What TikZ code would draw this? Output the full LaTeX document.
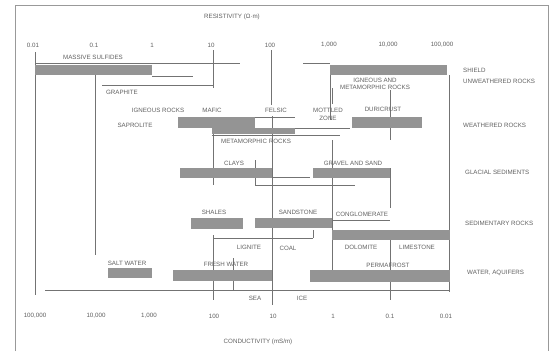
\documentclass[tikz,border=0pt]{standalone}
\usepackage{fontspec}
\setmainfont{Liberation Sans}
\definecolor{txt}{gray}{0.38}
\definecolor{barc}{gray}{0.58}
\definecolor{lnc}{gray}{0.45}
\definecolor{frm}{gray}{0.60}
\begin{document}
\begin{tikzpicture}[x=1pt,y=-1pt,
  lbl/.style={text=txt,font=\fontsize{6.2}{6.6}\selectfont,inner sep=0pt,anchor=center},
  rlbl/.style={lbl,anchor=west},
  barbox/.style={fill=barc,draw=none},
  rng/.style={draw=lnc,line width=0.55pt},
  frame line/.style={draw=frm,line width=0.8pt}]
\useasboundingbox (0,0) rectangle (551,351);
\fill[white] (0,0) rectangle (551,351);
% frame
\draw[frame line] (15,351) -- (15,5) -- (548,5) -- (548,351);
% axis titles
\node[lbl] (restitle) at (232,17) {RESISTIVITY (Ω·m)};
\node[lbl] (condtitle) at (258,342) {CONDUCTIVITY (mS/m)};
% top tick labels
\node[lbl] (r1) at (33,45) {0.01};
\node[lbl] (r2) at (94,45) {0.1};
\node[lbl] (r3) at (152,45) {1};
\node[lbl] (r4) at (211,45) {10};
\node[lbl] (r5) at (270,45) {100};
\node[lbl] (r6) at (329,45) {1,000};
\node[lbl] (r7) at (388,45) {10,000};
\node[lbl] (r8) at (442,45) {100,000};
% bottom tick labels
\node[lbl] (c1) at (35,316) {100,000};
\node[lbl] (c2) at (96,316) {10,000};
\node[lbl] (c3) at (149,316) {1,000};
\node[lbl] (c4) at (214,316) {100};
\node[lbl] (c5) at (273,316) {10};
\node[lbl] (c6) at (333,316) {1};
\node[lbl] (c7) at (390,316) {0.1};
\node[lbl] (c8) at (446,316) {0.01};
% range lines (verticals)
\draw[rng] (35,52) -- (35,295);
\draw[rng] (95,73) -- (95,255);
\draw[rng] (213,50) -- (213,88);
\draw[rng] (271,50) -- (271,105);
\draw[rng] (272,116) -- (272,305);
\draw[rng] (213,128) -- (213,185);
\draw[rng] (213,235) -- (213,300);
\draw[rng] (233,258) -- (233,290);
\draw[rng] (255,160) -- (255,185);
\draw[rng] (330,65) -- (330,120);
\draw[rng] (390,90) -- (390,140);
\draw[rng] (390,168) -- (390,208);
\draw[rng] (390,235) -- (390,300);
\draw[rng] (332,88) -- (332,104);
\draw[rng] (332,140) -- (332,270);
\draw[rng] (449,75) -- (449,292);
\draw[rng] (313,230) -- (313,238);
% range lines (horizontals)
\draw[rng] (35,63) -- (240,63);
\draw[rng] (152,76) -- (193,76);
\draw[rng] (102,85) -- (213,85);
\draw[rng] (303,63) -- (330,63);
\draw[rng] (255,117) -- (295,117);
\draw[rng] (295,128) -- (350,128);
\draw[rng] (273,135) -- (340,135);
\draw[rng] (212,135) -- (297,135);
\draw[rng] (272,177) -- (310,177);
\draw[rng] (255,185) -- (355,185);
\draw[rng] (213,238) -- (313,238);
\draw[rng] (333,220) -- (390,220);
\draw[rng] (45,290) -- (450,290);
% bars
\fill[barbox] (35,65) rectangle (152,75);
\fill[barbox] (330,65) rectangle (447,75);
\fill[barbox] (178,117) rectangle (255,128);
\fill[barbox] (212,128) rectangle (295,134);
\fill[barbox] (352,117) rectangle (422,128);
\fill[barbox] (180,168) rectangle (272,178);
\fill[barbox] (313,168) rectangle (390,178);
\fill[barbox] (191,218) rectangle (243,229);
\fill[barbox] (255,218) rectangle (332,228);
\fill[barbox] (332,230) rectangle (450,240);
\fill[barbox] (108,268) rectangle (152,278);
\fill[barbox] (173,270) rectangle (272,281);
\fill[barbox] (310,270) rectangle (450,282);
% labels
\node[lbl] (sulf) at (93,57) {MASSIVE SULFIDES};
\node[lbl] (graph) at (122,92) {GRAPHITE};
\node[lbl] (igmet1) at (375,80) {IGNEOUS AND};
\node[lbl] (igmet2) at (375,87.5) {METAMORPHIC ROCKS};
\node[lbl] (igr) at (158,110) {IGNEOUS ROCKS};
\node[lbl] (mafic) at (212,110) {MAFIC};
\node[lbl] (felsic) at (276,110) {FELSIC};
\node[lbl] (mott) at (328,110) {MOTTLED};
\node[lbl] (zone) at (328,118.5) {ZONE};
\node[lbl] (duri) at (383,109) {DURICRUST};
\node[lbl] (sapro) at (135,125) {SAPROLITE};
\node[lbl] (metr) at (256,141) {METAMORPHIC ROCKS};
\node[lbl] (clays) at (234,163) {CLAYS};
\node[lbl] (grav) at (353,163) {GRAVEL AND SAND};
\node[lbl] (shal) at (214,212) {SHALES};
\node[lbl] (sand) at (298,212) {SANDSTONE};
\node[lbl] (cong) at (362,214) {CONGLOMERATE};
\node[lbl] (lign) at (249,247) {LIGNITE};
\node[lbl] (coal) at (288,248) {COAL};
\node[lbl] (dolo) at (361,247) {DOLOMITE};
\node[lbl] (lime) at (417,247) {LIMESTONE};
\node[lbl] (salt) at (127,263) {SALT WATER};
\node[lbl] (fresh) at (226,264) {FRESH WATER};
\node[lbl] (perm) at (388,265) {PERMAFROST};
\node[lbl] (sea) at (255,298) {SEA};
\node[lbl] (ice) at (302,298) {ICE};
% right column
\node[rlbl] (shield) at (463,70) {SHIELD};
\node[rlbl] (unw) at (463,81) {UNWEATHERED ROCKS};
\node[rlbl] (wea) at (463,125) {WEATHERED ROCKS};
\node[rlbl] (glac) at (465,172) {GLACIAL SEDIMENTS};
\node[rlbl] (sedr) at (465,223) {SEDIMENTARY ROCKS};
\node[rlbl] (wat) at (467,273) {WATER, AQUIFERS};
\end{tikzpicture}
\end{document}
